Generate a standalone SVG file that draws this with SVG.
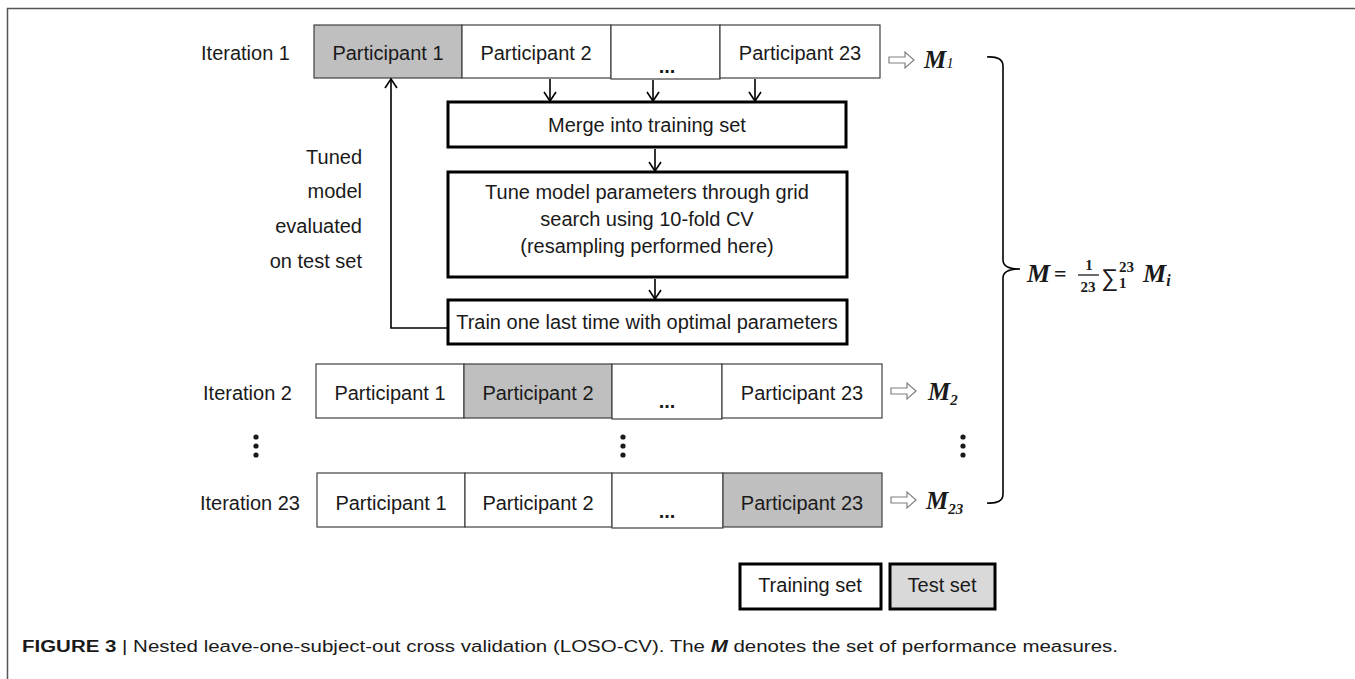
<svg xmlns="http://www.w3.org/2000/svg" width="1355" height="679" viewBox="0 0 1355 679">
<style>
text{font-family:"Liberation Sans",Arial,sans-serif;fill:#1a1a1a}
.t{font-size:20px}
.c{text-anchor:middle}
.r{text-anchor:end}
.el{font-weight:bold}
.cell{fill:#fff;stroke:#404040;stroke-width:1.2}
.cell.hl{fill:#bfbfbf}
.box{fill:#fff;stroke:#000;stroke-width:3}
.box.test{fill:#d9d9d9}
.ln{fill:none;stroke:#000;stroke-width:1.6}
.ha{fill:#fff;stroke:#808080;stroke-width:1.2}
.m{font-family:"Liberation Serif","Times New Roman",serif;font-weight:bold;font-style:italic}
.f{font-family:"Liberation Serif","Times New Roman",serif;font-weight:bold}
.dot{fill:#1a1a1a}
</style>
<defs>
<marker id="v" viewBox="-11 -8 13 16" refX="0" refY="0" markerWidth="13" markerHeight="16" markerUnits="userSpaceOnUse" orient="auto">
<path d="M-9,-6 L0,0 L-9,6" fill="none" stroke="#000" stroke-width="1.6"/>
</marker>
</defs>
<rect width="1355" height="679" fill="#fff"/>
<path d="M7.5,679 V8.5 H1355" fill="none" stroke="#555" stroke-width="1.5"/>

<!-- row 1 -->
<g id="iter1">
<text class="t r" x="290" y="60">Iteration 1</text>
<rect class="cell hl" x="314" y="25" width="148" height="53"/>
<rect class="cell" x="462" y="25" width="149" height="53"/>
<rect class="cell" x="611" y="25" width="109" height="54"/>
<rect class="cell" x="720" y="25" width="160" height="53"/>
<text class="t c" x="388" y="60">Participant 1</text>
<text class="t c" x="536" y="60">Participant 2</text>
<text class="t c el" x="667" y="73">...</text>
<text class="t c" x="800" y="60">Participant 23</text>
<polygon class="ha" points="889,57 905,57 905,52 914,60 905,68 905,63 889,63"/>
<text class="m" x="924" y="68" font-size="25">M<tspan font-size="15" font-weight="normal">1</tspan></text>
</g>

<!-- row 2 -->
<g id="iter2">
<text class="t r" x="292" y="400">Iteration 2</text>
<rect class="cell" x="316" y="364" width="148" height="54"/>
<rect class="cell hl" x="464" y="364" width="148" height="54"/>
<rect class="cell" x="612" y="364" width="110" height="55"/>
<rect class="cell" x="722" y="364" width="160" height="54"/>
<text class="t c" x="390" y="400">Participant 1</text>
<text class="t c" x="538" y="400">Participant 2</text>
<text class="t c el" x="667" y="408">...</text>
<text class="t c" x="802" y="400">Participant 23</text>
<polygon class="ha" points="891,388 907,388 907,383 916,391 907,399 907,394 891,394"/>
<text class="m" x="928" y="400" font-size="25">M<tspan font-size="15" dy="5">2</tspan></text>
</g>

<!-- row 3 -->
<g id="iter23">
<text class="t r" x="300" y="510">Iteration 23</text>
<rect class="cell" x="317" y="473" width="148" height="54"/>
<rect class="cell" x="465" y="473" width="147" height="54"/>
<rect class="cell" x="612" y="473" width="111" height="55"/>
<rect class="cell hl" x="723" y="473" width="159" height="54"/>
<text class="t c" x="391" y="510">Participant 1</text>
<text class="t c" x="538" y="510">Participant 2</text>
<text class="t c el" x="667" y="518">...</text>
<text class="t c" x="802" y="510">Participant 23</text>
<polygon class="ha" points="891,497 907,497 907,492 916,500 907,508 907,503 891,503"/>
<text class="m" x="926" y="509" font-size="25">M<tspan font-size="15" dy="5">23</tspan></text>
</g>

<!-- vertical ellipses -->
<g id="vdots">
<circle class="dot" cx="256" cy="437" r="2.6"/><circle class="dot" cx="256" cy="446" r="2.6"/><circle class="dot" cx="256" cy="455" r="2.6"/>
<circle class="dot" cx="623" cy="437" r="2.6"/><circle class="dot" cx="623" cy="446" r="2.6"/><circle class="dot" cx="623" cy="455" r="2.6"/>
<circle class="dot" cx="963" cy="437" r="2.6"/><circle class="dot" cx="963" cy="446" r="2.6"/><circle class="dot" cx="963" cy="455" r="2.6"/>
</g>

<g id="merge">
<rect class="box" x="448" y="102" width="398" height="45"/>
<text class="t c" x="647" y="132">Merge into training set</text>
</g>
<g id="tune">
<rect class="box" x="448" y="172" width="399" height="105"/>
<text class="t c" x="647" y="199">Tune model parameters through grid</text>
<text class="t c" x="647" y="226">search using 10-fold CV</text>
<text class="t c" x="647" y="253">(resampling performed here)</text>
</g>
<g id="train">
<rect class="box" x="448" y="300" width="399" height="44"/>
<text class="t c" x="647" y="329">Train one last time with optimal parameters</text>
</g>

<g id="feedback-label">
<text class="t r" x="362" y="164">Tuned</text>
<text class="t r" x="362" y="198">model</text>
<text class="t r" x="362" y="233">evaluated</text>
<text class="t r" x="362" y="268">on test set</text>
</g>

<g id="connectors">
<line class="ln" x1="550" y1="79" x2="550" y2="101" marker-end="url(#v)"/>
<line class="ln" x1="653" y1="80" x2="653" y2="101" marker-end="url(#v)"/>
<line class="ln" x1="755" y1="79" x2="755" y2="101" marker-end="url(#v)"/>
<line class="ln" x1="655" y1="149" x2="655" y2="171" marker-end="url(#v)"/>
<line class="ln" x1="655" y1="279" x2="655" y2="299" marker-end="url(#v)"/>
<polyline class="ln" points="447,328 391,328 391,79" marker-end="url(#v)"/>
</g>

<g id="brace">
<path class="ln" d="M987,57 Q1003,56 1003,66 L1003,260 Q1003,269 1020,269 Q1003,269 1003,278 L1003,494 Q1003,504 987,503"/>
</g>
<g id="formula">
<text class="m" x="1027" y="282" font-size="26">M</text>
<text class="f" x="1054" y="281" font-size="22">=</text>
<text class="f" x="1089" y="270" font-size="15" text-anchor="middle">1</text>
<line x1="1078" y1="275" x2="1099" y2="275" stroke="#1a1a1a" stroke-width="1.3"/>
<text class="f" x="1088" y="292" font-size="15" text-anchor="middle">23</text>
<text x="1101" y="286" font-size="24" font-family="DejaVu Serif,serif" fill="#1a1a1a">∑</text>
<text class="f" x="1119" y="272" font-size="15">23</text>
<text class="f" x="1119" y="288" font-size="15">1</text>
<text class="m" x="1143" y="282" font-size="26">M<tspan font-size="16" dy="4">i</tspan></text>
</g>

<g id="legend">
<rect class="box" x="740" y="564" width="141" height="45"/>
<text class="t c" x="810" y="592">Training set</text>
<rect class="box test" x="890" y="564" width="105" height="45"/>
<text class="t c" x="942" y="592">Test set</text>
</g>

<text x="22" y="652" font-size="16" textLength="1096" lengthAdjust="spacingAndGlyphs" fill="#231f20"><tspan font-weight="bold">FIGURE 3</tspan> | Nested leave-one-subject-out cross validation (LOSO-CV). The <tspan font-weight="bold" font-style="italic">M</tspan> denotes the set of performance measures.</text>
</svg>
